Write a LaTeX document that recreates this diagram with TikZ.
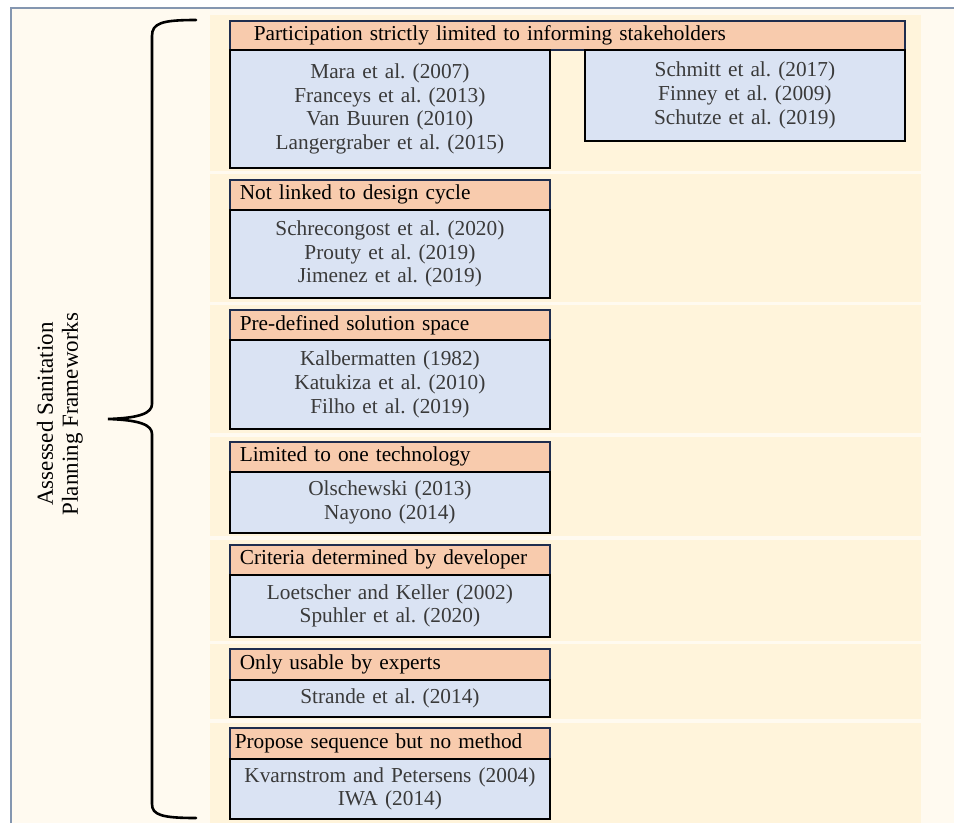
\documentclass[tikz,border=0pt]{standalone}
\usepackage{fontspec}
\setmainfont{Liberation Serif}
\newfontfamily\bodyf{Liberation Serif}
\frenchspacing
\definecolor{pagebg}{HTML}{FFFAF0}
\definecolor{bandc}{HTML}{FFF4DB}
\definecolor{hdrc}{HTML}{F8CBAD}
\definecolor{bluec}{HTML}{DAE3F3}
\definecolor{navy}{HTML}{1F2D4E}
\definecolor{frame}{HTML}{8496B0}
\definecolor{bodytxt}{HTML}{3A3A3A}
\tikzset{
  band/.style={fill=bandc, draw=none},
  hdr/.style={fill=hdrc, draw=navy, line width=1.6pt, anchor=north west,
    inner xsep=10pt, inner ysep=0pt, text width=300pt, align=left,
    font=\bodyf\frenchspacing\fontsize{21.3}{24}\selectfont, text=black},
  bodybox/.style={fill=bluec, draw=black, line width=1.8pt, anchor=north west,
    inner xsep=4pt, inner ysep=0pt, text width=312pt, align=center,
    font=\bodyf\frenchspacing\fontsize{21.3}{23.6}\selectfont, text=bodytxt},
}
\begin{document}
\begin{tikzpicture}[x=1pt,y=-1pt]
\useasboundingbox (0,0) rectangle (954,823);
\fill[white] (0,0) rectangle (954,823);
\fill[pagebg] (11,8) rectangle (954,823);
\draw[frame, line width=2pt] (11,823) -- (11,8) -- (954,8);
% bands
\fill[band] (210,15) rectangle (921,171);
\fill[band] (210,174) rectangle (921,302);
\fill[band] (210,305) rectangle (921,433);
\fill[band] (210,437) rectangle (921,536);
\fill[band] (210,540) rectangle (921,641);
\fill[band] (210,644) rectangle (921,719);
\fill[band] (210,723) rectangle (921,823);
% brace
\draw[line width=2.6pt, line cap=round]
  (196,20) .. controls (162,20) and (152,23) .. (152,36) -- (152,404)
  .. controls (152,413) and (140,418) .. (108,419)
  .. controls (140,420) and (152,425) .. (152,434) -- (152,804)
  .. controls (152,815) and (162,818) .. (196,818);
\node[rotate=90, align=center, font=\bodyf\fontsize{23}{25}\selectfont, text=black] (side) at (60,414)
  {Assessed Sanitation\\Planning Frameworks};
% group 1
\node[hdr, text width=627pt, inner xsep=24pt, minimum height=29pt] (h1) at (229,20)
  {Participation strictly limited to informing stakeholders};
\node[bodybox, minimum height=118pt] (l1) at (229,49)
  {Mara et al. (2007)\\Franceys et al. (2013)\\Van Buuren (2010)\\Langergraber et al. (2015)};
\node[bodybox, minimum height=91pt] (r1) at (584,49)
  {Schmitt et al. (2017)\\Finney et al. (2009)\\Schutze et al. (2019)};
% group 2
\node[hdr, minimum height=30pt] (h2) at (229,179) {Not linked to design cycle};
\node[bodybox, minimum height=88pt] (l2) at (229,209)
  {Schrecongost et al. (2020)\\Prouty et al. (2019)\\Jimenez et al. (2019)};
% group 3
\node[hdr, minimum height=30pt] (h3) at (229,309) {Pre-defined solution space};
\node[bodybox, minimum height=89pt] (l3) at (229,339)
  {Kalbermatten (1982)\\Katukiza et al. (2010)\\Filho et al. (2019)};
% group 4
\node[hdr, minimum height=30pt] (h4) at (229,441) {Limited to one technology};
\node[bodybox, minimum height=61pt] (l4) at (229,471)
  {Olschewski (2013)\\Nayono (2014)};
% group 5
\node[hdr, minimum height=30pt] (h5) at (229,544) {Criteria determined by developer};
\node[bodybox, minimum height=62pt] (l5) at (229,574)
  {Loetscher and Keller (2002)\\Spuhler et al. (2020)};
% group 6
\node[hdr, minimum height=31pt] (h6) at (229,648) {Only usable by experts};
\node[bodybox, minimum height=37pt] (l6) at (229,679)
  {Strande et al. (2014)};
% group 7
\node[hdr, inner xsep=5pt, text width=310pt, minimum height=31pt] (h7) at (229,727) {Propose sequence but no method};
\node[bodybox, minimum height=60pt] (l7) at (229,758)
  {Kvarnstrom and Petersens (2004)\\IWA (2014)};
\end{tikzpicture}
\end{document}
